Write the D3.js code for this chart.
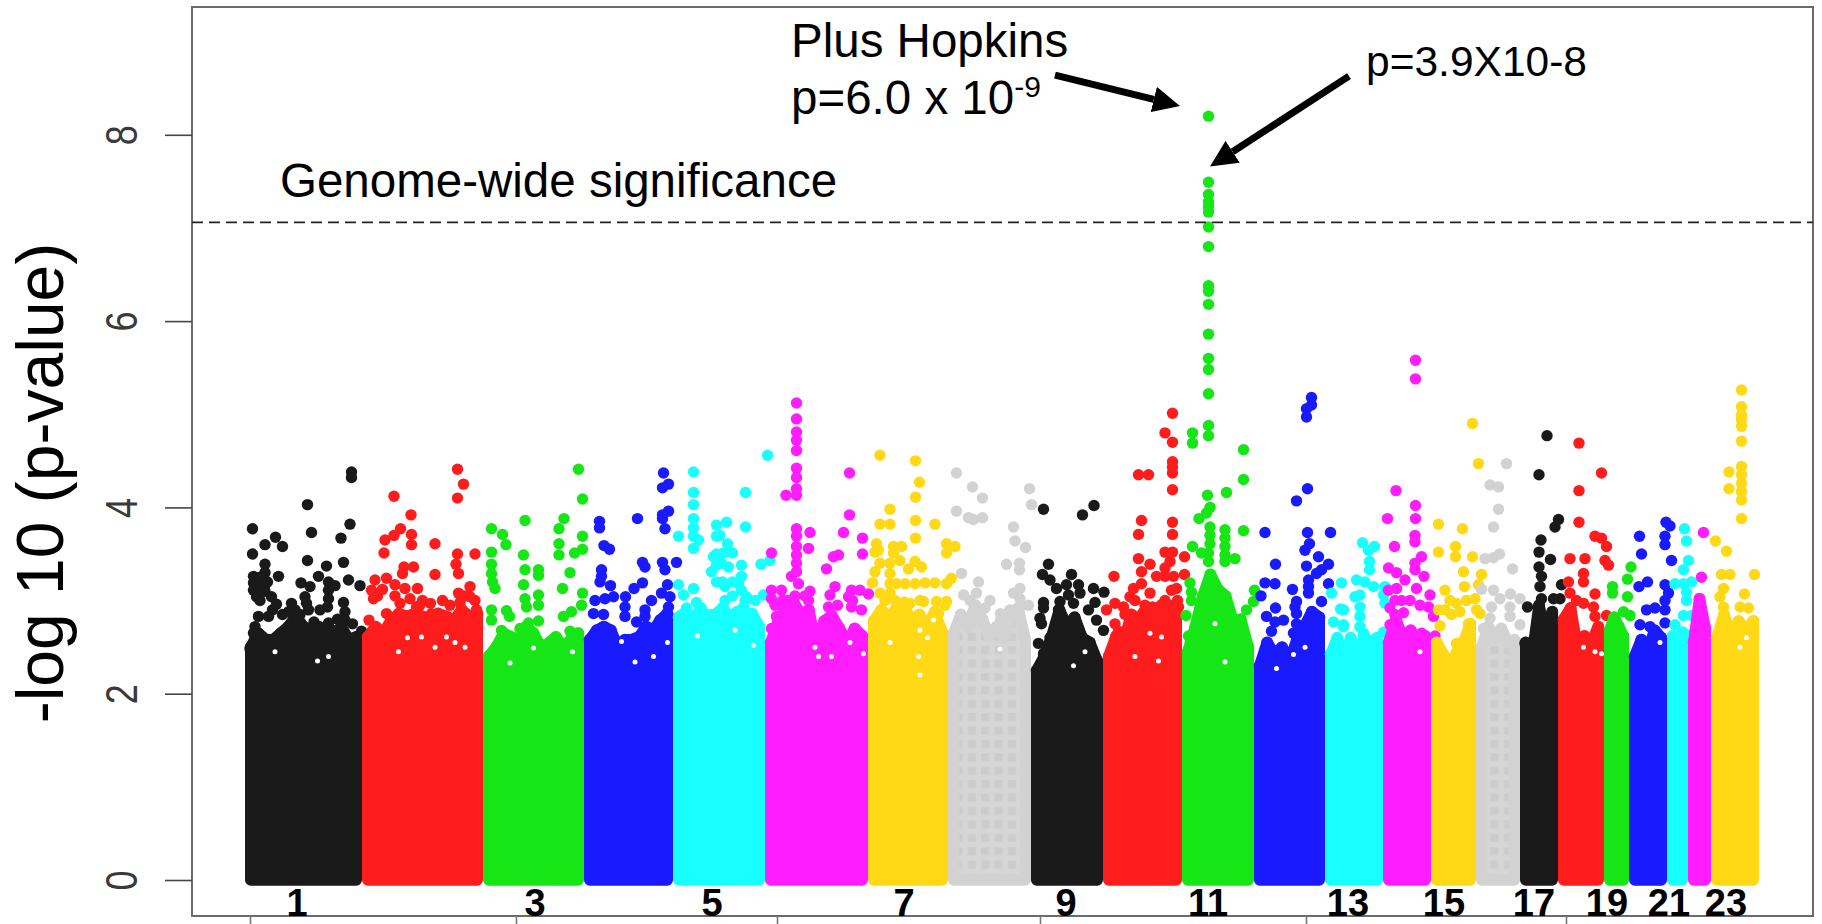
<!DOCTYPE html>
<html lang="en">
<head>
    <meta charset="UTF-8">
    <title>Manhattan plot</title>
    <script src="https://cdnjs.cloudflare.com/ajax/libs/d3/7.8.5/d3.min.js"></script>
    <style>
        html, body { margin: 0; padding: 0; background: #fff; overflow: hidden; }
        svg { display: block; font-family: "Liberation Sans", Arial, sans-serif; }
        .frame { fill: none; stroke: #6b6b6b; stroke-width: 2px; }
        .y-axis line { stroke: #444; stroke-width: 1.6px; }
        .y-axis text { fill: #3a3a3a; font-size: 36px; }
        .x-axis line { stroke: #777; stroke-width: 1.6px; }
        .axis-domain { display: none; }
        .note { fill: #000; }
        .chr-label { fill: #000; font-size: 38px; font-weight: bold; text-anchor: middle; }
    </style>
</head>
<body>
    <div id="chart"></div>

    <script>
        // Chromosome lengths in Mb
        const chrLengths = [234, 242, 202, 178, 184, 206, 160, 166, 144, 158, 144, 142, 116, 96, 90, 88, 76, 92, 50, 76, 42, 46, 96];
        const palette = ["#1a1a1a", "#ff1c1c", "#16e616", "#1a1aff", "#17ffff", "#ff1cff", "#ffd916", "#d2d2d2"];

        const yTicks = [0, 2, 4, 6, 8];
        const xTicks = [10, 542, 1064, 1590, 2122, 2642];
        const significance = 7.06;

        const chrLabels = ["1", "3", "5", "7", "9", "11", "13", "15", "17", "19", "21", "23"];
        const chrLabelPos = [104, 580, 934, 1318, 1642, 1926, 2206, 2398, 2578, 2724, 2848, 2962];

        // Top of the solid mass of points per chromosome, evenly spaced bins along it (-log10 p)
        const bandTops = [
            [2.50, 2.65, 2.58, 2.58, 2.65, 2.72, 2.83, 2.72, 2.68, 2.72, 2.68, 2.61, 2.72, 2.58, 2.61],
            [2.61, 2.72, 2.65, 2.79, 2.86, 2.83, 2.86, 2.83, 2.76, 2.86, 2.83, 2.79, 2.90, 2.83, 2.86],
            [2.40, 2.50, 2.65, 2.61, 2.58, 2.72, 2.65, 2.50, 2.54, 2.61, 2.50, 2.58, 2.65],
            [2.58, 2.68, 2.72, 2.68, 2.50, 2.58, 2.58, 2.61, 2.72, 2.68, 2.79, 2.86],
            [2.82, 2.88, 2.80, 2.92, 2.78, 2.85, 2.92, 2.82, 2.88, 2.80, 2.86, 2.72],
            [2.55, 2.78, 2.92, 2.98, 2.85, 2.90, 2.50, 2.78, 2.84, 2.70, 2.55, 2.70, 2.62],
            [2.78, 2.90, 2.82, 2.92, 2.98, 2.72, 2.85, 2.72, 2.88, 2.66],
            [2.65, 2.85, 2.72, 2.95, 2.80, 2.62, 2.72, 2.60, 2.85, 2.92, 2.58],
            [2.25, 2.40, 2.62, 2.90, 2.72, 2.82, 2.60, 2.55, 2.35],
            [2.40, 2.62, 2.55, 2.85, 2.80, 2.92, 2.82, 2.95, 2.85, 2.88],
            [2.45, 2.72, 3.05, 3.28, 3.12, 3.05, 2.78, 2.80, 2.50],
            [2.30, 2.55, 2.42, 2.50, 2.35, 2.58, 2.72, 2.88, 2.82],
            [2.42, 2.60, 2.38, 2.60, 2.30, 2.62, 2.55, 2.60],
            [2.55, 2.80, 2.58, 2.68, 2.55, 2.62],
            [2.55, 2.42, 2.30, 2.45, 2.55, 2.75],
            [2.50, 2.72, 2.60, 2.70, 2.55, 2.58],
            [2.55, 2.42, 2.95, 2.62, 2.88],
            [2.80, 2.92, 2.48, 2.62, 2.55, 2.72],
            [2.68, 2.82, 2.72, 2.62],
            [2.40, 2.58, 2.48, 2.68, 2.60],
            [2.62, 2.48, 2.66],
            [2.55, 3.02, 2.70],
            [2.60, 2.85, 2.60, 2.78, 2.68, 2.78]
        ];

        // Points standing clear of the mass: [genome position Mb, -log10 p]
        const hitsChr1 = [[213,4.38],[213,4.32],[125,4.03],[210,3.82],[15,3.77],[133,3.73],[192,3.67],[61,3.68],[40,3.60],[75,3.58],[15,3.50],[125,3.43],[197,3.41],[40,3.39],[163,3.37],[40,3.30],[67,3.26],[17,3.26],[17,3.19],[17,3.11],[40,3.17],[40,3.10],[147,3.26],[167,3.20],[180,3.16],[112,3.19],[207,3.22],[230,3.16],[130,3.15],[120,3.04],[123,2.97],[167,3.11],[167,3.02],[165,2.93],[197,2.98],[200,2.88],[200,2.79],[53,3.04],[63,2.96],[30,3.00],[23,3.04],[93,2.97],[100,2.90],[87,2.88],[127,2.90],[27,2.83],[47,2.83],[20,2.72],[17,2.65],[138,2.77],[167,2.76],[177,2.68],[233,2.67],[10,2.48],[27,3.15],[30,3.25],[45,3.20],[55,2.90],[75,2.85],[110,2.85],[150,2.90],[185,2.80],[215,2.75]];
        const hitsChr2 = [[425,4.41],[437,4.25],[425,4.10],[298,4.12],[332,3.92],[311,3.77],[333,3.71],[333,3.60],[298,3.70],[280,3.65],[278,3.51],[380,3.61],[425,3.50],[460,3.50],[422,3.39],[427,3.29],[380,3.28],[337,3.36],[318,3.36],[315,3.29],[283,3.24],[260,3.22],[253,3.11],[257,3.02],[300,3.17],[320,3.13],[345,3.13],[450,3.15],[427,3.08],[450,3.04],[371,2.97],[343,2.93],[310,2.97],[410,2.95],[463,2.90],[283,2.86],[248,2.79],[373,2.86],[403,2.83],[253,2.59],[265,3.05],[275,3.12],[300,3.05],[330,3.02],[355,3.00],[395,3.00],[430,2.98],[440,3.05],[460,3.00],[350,2.95]];
        const hitsChr3 = [[667,4.41],[675,4.09],[560,3.86],[638,3.88],[628,3.77],[515,3.71],[493,3.77],[522,3.60],[675,3.69],[628,3.61],[675,3.55],[659,3.51],[628,3.49],[493,3.52],[557,3.49],[493,3.39],[493,3.29],[495,3.20],[500,3.13],[560,3.33],[587,3.33],[587,3.27],[650,3.30],[557,3.17],[635,3.13],[675,3.08],[587,3.06],[587,2.95],[560,3.02],[563,2.93],[493,2.90],[493,2.79],[523,2.89],[529,2.83],[587,2.78],[673,2.95],[637,2.83],[653,2.88],[650,2.67],[567,2.76],[550,2.70],[513,2.68]];
        const hitsChr4 = [[837,4.37],[847,4.25],[835,4.21],[847,3.96],[835,3.92],[835,3.88],[840,3.77],[709,3.85],[709,3.78],[785,3.88],[718,3.59],[729,3.55],[795,3.41],[800,3.36],[835,3.41],[840,3.33],[863,3.41],[713,3.33],[713,3.26],[710,3.20],[731,3.16],[795,3.19],[778,3.13],[845,3.17],[700,3.00],[720,3.02],[737,3.04],[761,3.04],[760,2.93],[760,2.83],[833,3.08],[850,3.04],[813,3.00],[800,2.90],[847,2.93],[847,2.83],[697,2.86],[717,2.85],[783,2.77],[800,2.83]];
        const hitsChr5 = [[897,4.38],[897,4.16],[897,4.03],[897,3.88],[897,3.78],[897,3.69],[907,3.65],[897,3.56],[867,3.69],[943,3.81],[943,3.69],[937,3.47],[943,3.50],[933,3.31],[943,3.38],[943,3.20],[867,3.17],[897,3.13],[877,3.06],[903,2.98],[910,2.88],[883,2.92],[930,2.85],[1045,4.56],[1001,4.16],[963,3.84],[1001,3.79],[965,3.61],[950,3.70],[957,3.51],[975,3.51],[1050,3.43],[1032,3.39],[993,3.38],[993,3.26],[987,3.18],[953,3.40],[967,3.36],[1037,3.06],[993,3.11],[1003,3.04],[997,2.93],[960,3.15],[960,3.00],[975,3.20],[1000,3.00],[1020,3.00],[975,3.05],[955,3.20]];
        const hitsChr6 = [[1103,5.12],[1103,4.95],[1103,4.81],[1103,4.72],[1103,4.61],[1103,4.42],[1103,4.32],[1103,4.20],[1103,4.13],[1082,4.13],[1209,4.37],[1209,3.92],[1103,3.77],[1103,3.69],[1130,3.73],[1197,3.73],[1235,3.67],[1103,3.58],[1103,3.49],[1103,3.40],[1103,3.31],[1127,3.56],[1053,3.51],[1187,3.49],[1177,3.47],[1235,3.50],[1163,3.34],[1093,3.26],[1107,3.18],[1180,3.15],[1170,3.06],[1053,3.11],[1053,3.02],[1073,3.11],[1213,3.11],[1207,3.04],[1230,3.11],[1247,3.07],[1130,3.10],[1213,2.93],[1233,2.90],[1167,2.93],[1053,2.70],[1127,3.00],[1063,2.83],[1085,3.00],[1100,3.05],[1120,3.05],[1075,3.00],[1060,2.95],[1185,2.95],[1215,3.00]];
        const hitsChr7 = [[1270,4.56],[1341,4.50],[1349,4.27],[1341,4.11],[1290,3.98],[1270,3.82],[1290,3.82],[1341,3.86],[1380,3.82],[1341,3.67],[1263,3.61],[1260,3.52],[1267,3.54],[1403,3.61],[1420,3.58],[1403,3.51],[1297,3.58],[1313,3.58],[1297,3.51],[1310,3.43],[1290,3.40],[1290,3.29],[1290,3.18],[1270,3.40],[1260,3.31],[1340,3.42],[1353,3.36],[1327,3.34],[1255,3.19],[1303,3.18],[1320,3.18],[1340,3.18],[1360,3.19],[1380,3.19],[1403,3.18],[1413,3.24],[1270,3.08],[1290,3.08],[1330,2.97],[1357,2.99],[1383,2.99],[1403,2.99],[1343,2.83],[1387,2.86],[1280,3.00],[1300,3.00],[1350,3.00],[1400,2.95]];
        const hitsChr8 = [[1423,4.37],[1423,3.96],[1455,4.22],[1475,4.10],[1569,4.20],[1573,4.03],[1447,3.89],[1457,3.87],[1475,3.89],[1537,3.79],[1540,3.64],[1561,3.57],[1523,3.39],[1549,3.40],[1549,3.33],[1433,3.29],[1467,3.20],[1463,3.08],[1550,3.13],[1537,3.08],[1550,3.02],[1550,2.93],[1567,2.95],[1511,2.86],[1511,2.79],[1437,3.06],[1450,3.00],[1460,2.95],[1490,3.00],[1530,2.90],[1480,2.92]];
        const hitsChr9 = [[1597,3.98],[1698,4.02],[1675,3.92],[1607,3.39],[1595,3.28],[1610,3.22],[1623,3.13],[1653,3.28],[1643,3.17],[1667,3.17],[1670,3.08],[1697,3.13],[1718,3.09],[1700,2.98],[1647,3.06],[1630,2.99],[1627,2.90],[1597,2.98],[1597,2.92],[1590,2.81],[1593,2.75],[1687,2.90],[1703,2.79],[1717,2.68],[1657,2.97],[1587,2.54],[1610,2.60],[1597,2.43]];
        const hitsChr10 = [[1855,5.01],[1840,4.80],[1855,4.70],[1855,4.49],[1855,4.43],[1855,4.37],[1787,4.35],[1807,4.35],[1855,4.19],[1793,3.86],[1855,3.84],[1787,3.71],[1855,3.71],[1855,3.52],[1840,3.52],[1787,3.45],[1879,3.47],[1810,3.39],[1850,3.42],[1840,3.35],[1823,3.26],[1840,3.26],[1857,3.26],[1879,3.28],[1793,3.31],[1793,3.18],[1777,3.13],[1770,3.04],[1810,3.08],[1853,3.11],[1863,3.13],[1757,2.93],[1815,2.93],[1850,2.95],[1867,2.93],[1738,3.26],[1723,2.90],[1740,2.97],[1740,2.75],[1747,2.67],[1760,2.85],[1780,3.00],[1800,2.95],[1840,3.00],[1865,3.00]];
        const hitsChr11 = [[1927,8.20],[1927,7.49],[1927,7.36],[1927,7.28],[1927,7.23],[1927,7.17],[1927,7.01],[1927,6.80],[1927,6.38],[1927,6.32],[1927,6.18],[1927,5.86],[1927,5.60],[1927,5.48],[1927,5.22],[1927,4.88],[1927,4.77],[1895,4.80],[1895,4.69],[1997,4.62],[1997,4.30],[1925,4.13],[1963,4.16],[1930,4.00],[1923,3.94],[1908,3.88],[1997,3.75],[1930,3.79],[1930,3.70],[1930,3.61],[1960,3.76],[1960,3.67],[1960,3.58],[1960,3.49],[1960,3.42],[1895,3.58],[1913,3.51],[1927,3.51],[1927,3.42],[1980,3.45],[1890,3.19],[1893,3.09],[1893,3.00],[2019,3.11],[2017,2.99],[2003,2.90],[1882,2.84],[1887,2.62]];
        const hitsChr12 = [[2133,5.18],[2133,5.10],[2123,5.06],[2123,4.97],[2125,4.20],[2103,4.07],[2040,3.73],[2125,3.73],[2171,3.73],[2129,3.61],[2120,3.54],[2147,3.47],[2061,3.39],[2123,3.37],[2167,3.39],[2143,3.29],[2153,3.33],[2127,3.22],[2127,3.15],[2127,3.08],[2040,3.19],[2060,3.18],[2095,3.12],[2167,3.18],[2032,3.05],[2153,2.99],[2103,2.99],[2100,2.93],[2103,2.86],[2061,2.92],[2043,2.83],[2060,2.77],[2077,2.79],[2053,2.67],[2103,2.75],[2097,2.65]];
        const hitsChr13 = [[2193,3.19],[2173,3.08],[2191,2.91],[2177,2.77],[2197,2.72],[2235,3.62],[2247,3.54],[2259,3.58],[2249,3.42],[2249,3.33],[2223,3.22],[2240,3.20],[2257,3.15],[2280,3.15],[2230,3.06],[2220,3.04],[2230,2.93],[2230,2.83],[2230,2.72],[2237,2.65],[2277,3.06],[2280,2.97],[2197,2.90],[2197,2.74],[2277,2.66]];
        const hitsChr14 = [[2341,5.58],[2341,5.38],[2302,4.18],[2341,4.02],[2341,3.88],[2285,3.88],[2340,3.70],[2340,3.63],[2299,3.58],[2353,3.47],[2340,3.40],[2340,3.33],[2287,3.35],[2303,3.30],[2358,3.26],[2320,3.22],[2303,3.13],[2287,3.11],[2343,3.13],[2370,3.06],[2313,3.00],[2290,2.92],[2367,2.93],[2377,2.83],[2290,2.74],[2317,2.87],[2353,2.65],[2380,2.62],[2300,3.00],[2330,3.00],[2350,2.95],[2300,2.85]];
        const hitsChr15 = [[2455,4.90],[2467,4.47],[2387,3.82],[2435,3.77],[2421,3.58],[2421,3.47],[2387,3.52],[2455,3.47],[2437,3.31],[2473,3.28],[2467,3.17],[2439,3.15],[2400,3.11],[2423,2.97],[2443,3.00],[2460,3.02],[2387,2.90],[2463,2.90],[2470,2.86],[2413,2.85],[2430,2.88],[2390,2.73],[2447,2.75],[2423,2.54],[2400,2.90],[2410,3.00]];
        const hitsChr16 = [[2523,4.47],[2490,4.24],[2507,4.22],[2507,3.98],[2497,3.79],[2480,3.45],[2497,3.46],[2509,3.50],[2535,3.34],[2473,3.12],[2497,3.11],[2510,3.02],[2531,3.07],[2550,3.02],[2493,2.93],[2530,2.93],[2530,2.83],[2490,2.81],[2477,2.70],[2550,2.74]];
        const hitsChr17 = [[2604,4.77],[2588,4.35],[2627,3.87],[2620,3.79],[2592,3.65],[2588,3.52],[2611,3.44],[2588,3.36],[2593,3.26],[2590,3.15],[2565,2.93],[2593,3.02],[2617,3.02],[2630,3.02],[2587,2.83],[2560,2.54],[2633,3.17]];
        const hitsChr18 = [[2668,4.69],[2713,4.37],[2668,4.18],[2668,3.84],[2700,3.69],[2713,3.67],[2723,3.58],[2650,3.45],[2680,3.45],[2720,3.43],[2727,3.38],[2677,3.29],[2677,3.20],[2647,3.20],[2700,3.07],[2663,3.00],[2677,2.97],[2697,2.93],[2700,2.83],[2723,2.84],[2650,3.08],[2710,2.65]];
        const hitsChr19 = [[2772,3.36],[2765,3.23],[2735,3.15],[2735,3.08],[2765,3.04],[2757,2.88],[2770,2.84]];
        const hitsChr20 = [[2842,3.84],[2850,3.80],[2840,3.69],[2840,3.60],[2789,3.69],[2793,3.50],[2853,3.43],[2805,3.20],[2788,3.15],[2840,3.17],[2847,3.08],[2840,3.00],[2803,2.90],[2820,2.92],[2840,2.90],[2790,2.74],[2810,2.72],[2840,2.76]];
        const hitsChr21 = [[2879,3.77],[2883,3.64],[2887,3.43],[2877,3.33],[2893,3.20],[2877,3.18],[2860,3.18],[2883,3.09],[2883,3.00],[2877,2.84],[2893,2.84],[2860,2.74],[2890,2.63]];
        const hitsChr22 = [[2917,3.73],[2913,3.25]];
        const hitsChr23 = [[2993,5.26],[2993,5.08],[2993,4.99],[2993,4.94],[2993,4.87],[2993,4.71],[2993,4.44],[2993,4.35],[2993,4.26],[2993,4.17],[2993,4.08],[2968,4.38],[2968,4.20],[2993,3.88],[2941,3.64],[2963,3.53],[2953,3.28],[2970,3.28],[3019,3.28],[2957,3.13],[2950,3.04],[2957,2.93],[2999,3.07],[2990,2.93],[3007,2.92]];
        const hitsByChr = [hitsChr1, hitsChr2, hitsChr3, hitsChr4, hitsChr5, hitsChr6, hitsChr7, hitsChr8, hitsChr9, hitsChr10, hitsChr11, hitsChr12, hitsChr13, hitsChr14, hitsChr15, hitsChr16, hitsChr17, hitsChr18, hitsChr19, hitsChr20, hitsChr21, hitsChr22, hitsChr23];

        // Small white holes left in the mass
        const gaps = [[167,2.40],[353,2.61],[380,2.50],[403,2.61],[440,2.50],[307,2.45],[530,2.33],[577,2.49],[753,2.56],[780,2.34],[817,2.40],[980,2.68],[1017,2.52],[1140,2.50],[1147,2.40],[1173,2.40],[1237,2.43],[1350,2.68],[1377,2.79],[1350,2.20],[1347,2.40],[1510,2.48],[1657,2.30],[1833,2.61],[1780,2.40],[1827,2.35],[1960,2.34],[2097,2.42],[2063,2.27],[2677,2.50],[2713,2.43],[3003,2.60],[60,2.45],[145,2.35],[325,2.60],[420,2.55],[655,2.45],[845,2.55],[905,2.62],[1210,2.55],[1290,2.55],[1365,2.60],[1680,2.45],[1810,2.65],[1940,2.75],[2120,2.50],[2350,2.45],[2700,2.45],[2830,2.55],[2990,2.50]];

        // Annotation arrows: [from pos, from -log10 p, tip pos, tip -log10 p]
        const arrows = [[1620, 8.64, 1870, 8.31], [2208, 8.63, 1930, 7.66]];

        const dims = { width: 1822, height: 924, left: 192, right: 1813, top: 7, bottom: 916, dot: 5.7, headLength: 27 };

        const genomeEnd = d3.sum(chrLengths);
        const x = d3.scaleLinear().domain([0, genomeEnd]).range([245, 1759]);
        const y = d3.scaleLinear().domain([0, 8]).range([880, 134.8]);

        const svg = d3.select("#chart").append("svg")
            .attr("width", dims.width)
            .attr("height", dims.height);

        // The grey chromosomes show a faint grid of overlapping points
        const pattern = svg.append("defs").append("pattern")
            .attr("id", "greyGrid")
            .attr("patternUnits", "userSpaceOnUse")
            .attr("width", 13.4)
            .attr("height", 13.4);
        pattern.append("rect").attr("width", 13.4).attr("height", 13.4).attr("fill", "#d6d6d6");
        pattern.append("rect").attr("x", 3).attr("y", 3).attr("width", 8).attr("height", 8).attr("fill", "#cccccc");

        svg.append("defs").append("marker")
            .attr("id", "arrowhead")
            .attr("viewBox", "0 0 10 10")
            .attr("preserveAspectRatio", "none")
            .attr("refX", 0)
            .attr("refY", 5)
            .attr("markerWidth", dims.headLength)
            .attr("markerHeight", 26)
            .attr("markerUnits", "userSpaceOnUse")
            .attr("orient", "auto")
            .append("path")
            .attr("d", "M0,0L10,5L0,10Z")
            .attr("fill", "#000");

        const starts = d3.cumsum([0].concat(chrLengths));
        const plot = svg.append("g");

        function drawBand(i) {
            const start = x(starts[i]);
            const end = x(starts[i + 1]);
            const tops = bandTops[i];
            const bx = d3.scaleLinear().domain([0, tops.length - 1]).range([start + dims.dot, end - dims.dot]);
            const grey = palette[i % palette.length] === "#d2d2d2";
            const fill = grey ? "url(#greyGrid)" : palette[i % palette.length];

            const area = d3.area()
                .x((d, j) => bx(j))
                .y0(y(0))
                .y1(d => y(d));

            plot.append("path")
                .attr("d", area(tops))
                .attr("fill", fill)
                .attr("stroke", palette[i % palette.length])
                .attr("stroke-width", dims.dot * 2)
                .attr("stroke-linejoin", "round");

            plot.append("g").selectAll("circle")
                .data(tops)
                .join("circle")
                .attr("cx", (d, j) => bx(j))
                .attr("cy", d => y(d))
                .attr("r", dims.dot + 0.3)
                .attr("fill", palette[i % palette.length]);
        }

        function drawHits(i) {
            plot.append("g").selectAll("circle")
                .data(hitsByChr[i])
                .join("circle")
                .attr("cx", d => x(d[0]))
                .attr("cy", d => y(d[1]))
                .attr("r", dims.dot)
                .attr("fill", palette[i % palette.length]);
        }

        chrLengths.forEach((len, i) => {
            drawBand(i);
            drawHits(i);
        });

        plot.append("g").selectAll("circle")
            .data(gaps)
            .join("circle")
            .attr("cx", d => x(d[0]))
            .attr("cy", d => y(d[1]))
            .attr("r", 2.5)
            .attr("fill", "#fff");

        // Frame and axes
        svg.append("rect")
            .attr("class", "frame")
            .attr("x", dims.left)
            .attr("y", dims.top)
            .attr("width", dims.right - dims.left)
            .attr("height", dims.bottom - dims.top);

        const yAxis = svg.append("g")
            .attr("class", "y-axis")
            .attr("transform", `translate(${dims.left},0)`)
            .call(d3.axisLeft(y).tickValues(yTicks).tickSize(27).tickPadding(0));
        yAxis.select(".domain").attr("class", "axis-domain");
        yAxis.selectAll(".tick text")
            .attr("text-anchor", "middle")
            .attr("x", 0)
            .attr("y", 0)
            .attr("dy", 0)
            .attr("transform", "translate(-55,0) rotate(-90) scale(1,1.25)");

        const xAxis = svg.append("g")
            .attr("class", "x-axis")
            .attr("transform", `translate(0,${dims.bottom})`)
            .call(d3.axisBottom(x).tickValues(xTicks).tickSize(10).tickFormat(""));
        xAxis.select(".domain").attr("class", "axis-domain");

        svg.append("line")
            .attr("x1", dims.left)
            .attr("x2", dims.right)
            .attr("y1", y(significance))
            .attr("y2", y(significance))
            .attr("stroke", "#222")
            .attr("stroke-width", 1.6)
            .attr("stroke-dasharray", "11,6");

        svg.append("text")
            .attr("transform", "translate(63,483) rotate(-90)")
            .attr("text-anchor", "middle")
            .attr("font-size", 66)
            .text("-log 10 (p-value)");

        svg.selectAll(".chr-label")
            .data(chrLabels)
            .join("text")
            .attr("class", "chr-label")
            .attr("x", (d, i) => x(chrLabelPos[i]))
            .attr("y", 915.5)
            .text(d => d);

        // Notes
        svg.append("text").attr("class", "note").attr("x", 280).attr("y", 197).attr("font-size", 47.5)
            .text("Genome-wide significance");
        svg.append("text").attr("class", "note").attr("x", 791).attr("y", 57).attr("font-size", 47.5)
            .text("Plus Hopkins");
        const pHopkins = svg.append("text").attr("class", "note").attr("x", 791).attr("y", 114).attr("font-size", 47.5);
        pHopkins.append("tspan").text("p=6.0 x 10");
        pHopkins.append("tspan").attr("dy", -17).attr("font-size", 30).text("-9");
        svg.append("text").attr("class", "note").attr("x", 1366).attr("y", 76).attr("font-size", 42.5)
            .text("p=3.9X10-8");

        // Stop each shaft at the base of its head so the tip stays sharp
        function shaftEnd(d) {
            const x1 = x(d[0]), y1 = y(d[1]), x2 = x(d[2]), y2 = y(d[3]);
            const len = Math.hypot(x2 - x1, y2 - y1);
            const k = (len - dims.headLength) / len;
            return [x1 + (x2 - x1) * k, y1 + (y2 - y1) * k];
        }

        svg.append("g").selectAll("line")
            .data(arrows)
            .join("line")
            .attr("x1", d => x(d[0]))
            .attr("y1", d => y(d[1]))
            .attr("x2", d => shaftEnd(d)[0])
            .attr("y2", d => shaftEnd(d)[1])
            .attr("stroke", "#000")
            .attr("stroke-width", 7)
            .attr("marker-end", "url(#arrowhead)");
    </script>
</body>
</html>
